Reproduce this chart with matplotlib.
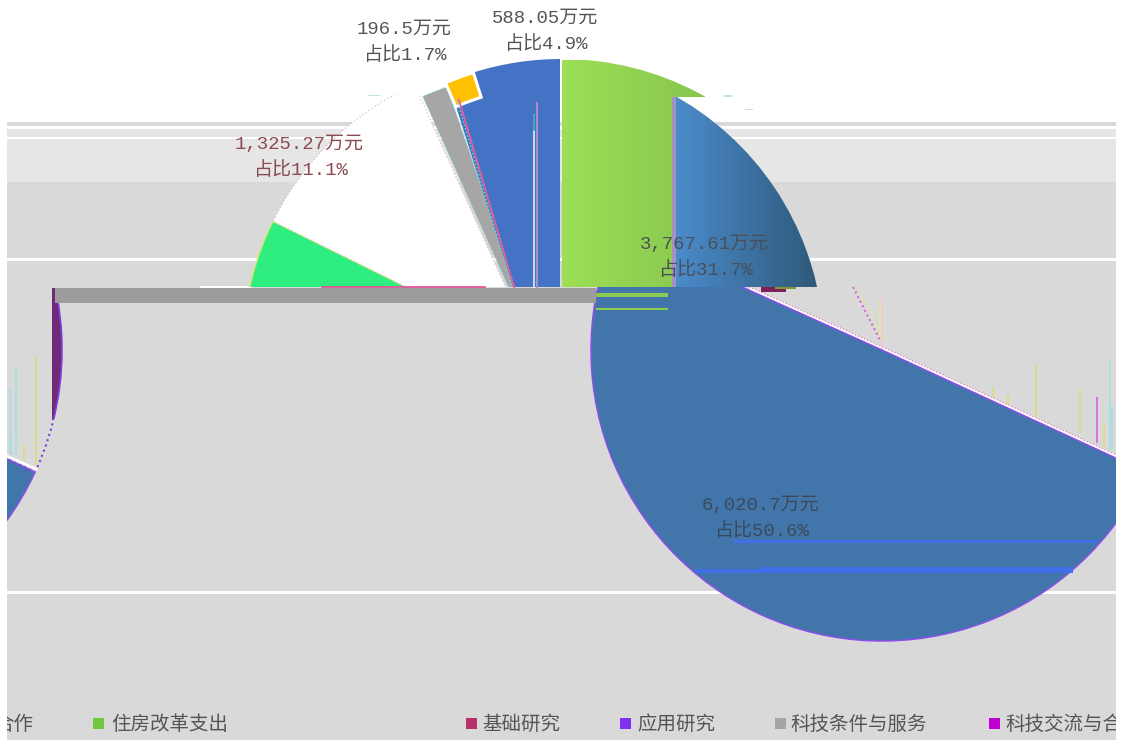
import numpy as np
import matplotlib
matplotlib.use("Agg")
import matplotlib.pyplot as plt
from matplotlib.patches import Rectangle
from matplotlib.colors import to_rgb
from matplotlib.transforms import Bbox

plt.rcParams['font.family'] = ['Liberation Mono', 'Noto Sans CJK SC', 'DejaVu Sans']

# ---- data
slice_values = [3767.61, 6020.7, 1325.27, 180.0, 196.5, 588.05]
slice_shares = [31.7, 50.6, 11.1, None, 1.7, 4.9]
legend_names = ['合作', '住房改革支出', '基础研究', '应用研究', '科技条件与服务', '科技交流与合作']

W, H = 1123, 740
fig = plt.figure(figsize=(W / 100, H / 100), dpi=100, facecolor='white')
ax = fig.add_axes([0, 0, 1, 1])


def Y(p):
    return H - p


def R(x0, y0, x1, y1, **kw):
    return Rectangle((x0, Y(y1)), x1 - x0, y1 - y0, **kw)


def clipbox(x0, y0, x1, y1):
    # axes fill the figure at 100 dpi, so data units are display pixels
    return Bbox([[x0, Y(y1)], [x1, Y(y0)]])


def band(x0, y0, x1, y1, color, z=1):
    ax.add_patch(R(x0, y0, x1, y1, fc=color, ec='none', zorder=z))


def wedge(i, cx, clip, color='none', start=90.0, r=291, cy=350, z=3, ec='none', lw=0, ls='-', width=None):
    props = dict(edgecolor=ec, linewidth=lw, linestyle=ls)
    if width:
        props['width'] = width
    ws, _ = ax.pie(slice_values, radius=r, center=(cx, Y(cy)), startangle=start,
                   counterclock=False, colors=[color] * len(slice_values), frame=True,
                   wedgeprops=props)
    for j, w in enumerate(ws):
        if j != i:
            w.remove()
    w = ws[i]
    w.set_zorder(z)
    w.set_clip_on(True)
    w.set_clip_box(clipbox(*clip))
    return w


def gradient(x0, y0, x1, y1, c0, c1, clip_patch, z=3, span=None):
    a, b = span if span else (x0, x1)
    t0, t1 = (x0 - a) / (b - a), (x1 - a) / (b - a)
    t = np.linspace(t0, t1, 128)[None, :, None]
    img = (1 - t) * np.array(to_rgb(c0))[None, None, :] + t * np.array(to_rgb(c1))[None, None, :]
    im = ax.imshow(img, extent=(x0, x1, Y(y1), Y(y0)), aspect='auto', zorder=z, interpolation='bilinear')
    im.set_clip_path(clip_patch)


# ---- background bands
band(0, 0, W, H, 'white', 0)
band(7, 122, 1116, 740, '#d9d9d9', 1)
band(7, 125.5, 1116, 129, 'white', 1)
band(7, 129, 1116, 182, '#e6e6e6', 1)
band(7, 136.5, 1116, 138.5, 'white', 1)
band(7, 257.5, 1116, 260.5, 'white', 1)
band(7, 591, 1116, 594, 'white', 1)
band(200, 285.5, 252, 287.5, 'white', 1)

# ---- upper fragment
TOP = (0, 0, W, 287)
LOW = (0, 97, W, 287)
wedge(1, 534, TOP, '#2EEE80', start=85.5, ec='#C8E868', lw=1, z=3)
wedge(2, 534, (0, 95, W, 287), 'white', start=85.5, ec='#E6C2CC', lw=1, ls=':', z=4)
wedge(3, 537, TOP, '#A6A6A6', start=85.5, r=278, ec='#6FD8C0', lw=0.8, ls=':', z=5)
for cx in (533, 547):
    wedge(5, cx, LOW, '#4472C4', z=6)
wedge(5, 561, (0, 0, 559.5, 287), '#4472C4', z=6)
wedge(4, 561, TOP, '#FFC000', r=291, width=26, ec='white', lw=2.2, z=7)

g = wedge(0, 562, (0, 0, W, 287), 'none', z=2)
gradient(562, 60, 705, 97, '#9DDF55', '#8CCB50', g, z=3, span=(562, 673))
gradient(562, 97, 673, 287, '#9DDF55', '#8CCB50', g, z=3, span=(562, 673))
b = wedge(0, 533, (0, 97, W, 287), 'none', z=2)
gradient(676, 97, 818, 287, '#4B8BCB', '#2F5979', b, z=4)
gradient(672, 97, 676, 287, '#A392C4', '#A392C4', b, z=4)

# stray strokes in the upper fragment
ax.plot([533.5, 533.5], [Y(115), Y(287)], color='#D8F4F0', lw=1.2, zorder=8)
ax.plot([533.5, 533.5], [Y(115), Y(130)], color='#2AA0B8', lw=1.2, zorder=8)
ax.plot([536.5, 536.5], [Y(103), Y(287)], color='#B08CC8', lw=1.4, zorder=8)
ax.plot([459, 514], [Y(100), Y(287)], color='#E8609A', lw=1.3, zorder=8)
ax.plot([457, 512], [Y(100), Y(287)], color='#58E0E0', lw=1, ls=':', zorder=8)
ax.plot([322, 485], [Y(286.5), Y(286.5)], color='#E0559A', lw=1.3, zorder=8)
band(761, 287, 786, 292, '#80205A', 3)
band(775, 286, 796, 289, '#7F9A35', 3)
band(368, 94.5, 380, 96, '#BFE3E3', 8)
band(724, 95, 732, 96.5, '#BFE3E3', 8)
band(745, 108.5, 753, 110, '#BFE3E3', 8)

# ---- big lower slice
CLIP = (7, 287, 1116, H)
wedge(1, 883.3, (750, 287, 1116, 470), 'white', start=87.5, cy=347.3, ec='#E27BC8', lw=0.9, ls=':', z=2)
wedge(1, 882, CLIP, '#4275AA', start=87.5, ec='#8A4FE8', lw=1.1, z=3)
band(596, 293, 668, 296.5, '#8CCB50', 4)
band(596, 308, 668, 310, '#8CCB50', 4)
band(695, 569, 1073, 573, '#3F70E8', 4)
band(760, 567, 1073, 569, '#3F70E8', 4)
band(733, 540, 1097, 542.5, '#3F70E8', 4)

# ---- left fragment
LEFT = (7, 288, 1116, H)
wedge(1, -229, LEFT, '#4275AA', start=87.5, ec='#8A4FE8', lw=1.1, z=3)
wedge(0, -229, (52, 288, 1116, 420), '#702B78', start=87.5, ec='#7A40E0', lw=1.2, z=3)
wedge(0, -229, (7, 420, 1116, 470), 'none', start=87.5, ec='#7A40E0', lw=1.5, ls=':', z=3)
ax.plot([7, 36], [Y(456), Y(469)], color='white', lw=1.8, zorder=2.5)

# thin vertical specks
specks = [
    (52.5, 288, 418, '#D8D060'), (36, 356, 465, '#DCDC78'), (16, 368, 455, '#A8E0E0'),
    (9.5, 387, 453, '#A8E0E0'), (10.5, 435, 455, '#A8E0E0'), (24, 445, 460, '#DCDC78'),
    (986, 358, 390, '#CFE2DC'), (993, 387, 398, '#DCDC78'), (1008, 395, 405, '#DCDC78'),
    (1036, 364, 417, '#DCDC78'), (1080, 388, 433, '#DCDC78'), (1097, 397, 443, '#D864D8'),
    (1104, 425, 447, '#DCDC78'), (1110, 358, 450, '#A8E0E0'), (1111.5, 405, 450, '#A8E0E0'),
    (882, 293, 350, '#F0C8DC'), (880, 300, 340, '#E4E8A0'),
]
for x, y0, y1, c in specks:
    ax.plot([x, x], [Y(y0), Y(y1)], color=c, lw=1.2, zorder=2.5, solid_capstyle='butt')
ax.plot([853, 880], [Y(287), Y(340)], color='#D858D8', lw=1.4, ls=':', zorder=2.5)
ax.plot([857, 883], [Y(287), Y(340)], color='#E8E878', lw=1.2, ls=':', zorder=2.5)

# grey bar
band(55, 288, 596, 303, '#9C9C9C', 5)

# ---- value labels
label_pos = [(704, 244), (760, 505), (299, 144), None, (404, 29), (545, 18)]
label_col = ['#4A4F58', '#3A4A5C', '#8C4A50', None, '#555555', '#555555']
for v, s, pos, c in zip(slice_values, slice_shares, label_pos, label_col):
    if pos is None:
        continue
    x, y = pos
    ax.text(x, Y(y), f'{v:,}万元', ha='center', va='center', fontsize=13.7, color=c, zorder=10)
    ax.text(x + 1, Y(y + 26), f'占比{s}%', ha='center', va='center', fontsize=13.7, color=c, zorder=10)

# ---- legend row
legend_text_x = [-6, 111, 482, 637, 790, 1005]
legend_box_x = [None, 93, 466, 620, 775, 989]
legend_cols = [None, '#70C840', '#B8306A', '#7F2FF0', '#A5A5A5', '#C000D0']
for name, tx, bx, c in zip(legend_names, legend_text_x, legend_box_x, legend_cols):
    t = ax.text(tx, Y(724.5), name, ha='left', va='center', fontsize=14, color='#555555', zorder=10,
                clip_on=True)
    t.set_clip_box(clipbox(7, 690, 1116, 740))
    if bx is not None:
        band(bx, 718, bx + 10.5, 728.5, c, 10)

ax.set_xlim(0, W)
ax.set_ylim(0, H)
ax.set_aspect('auto')
ax.axis('off')
fig.savefig('out.png', dpi=100, facecolor='white')
